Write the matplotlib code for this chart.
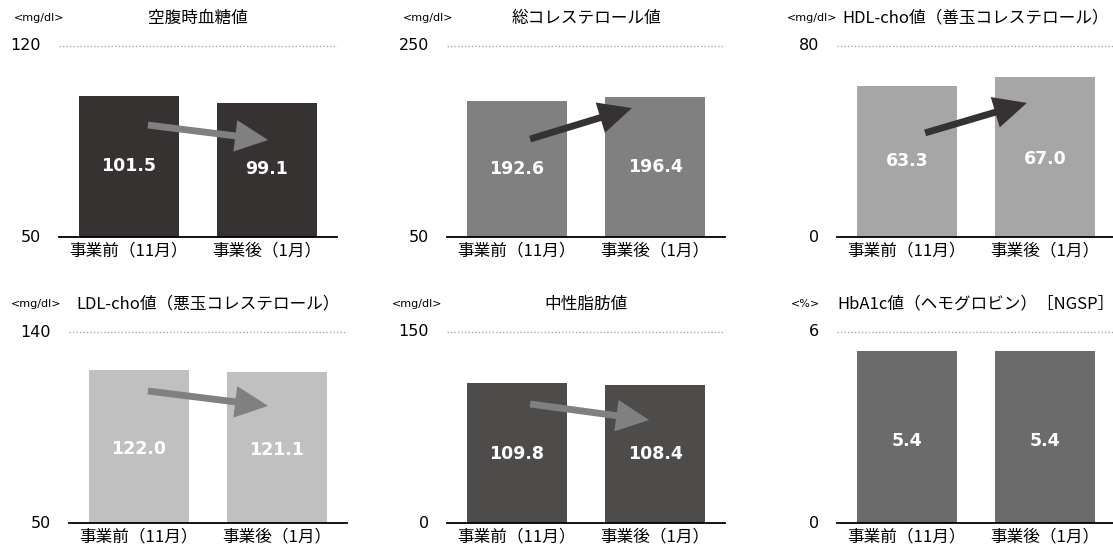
import matplotlib
matplotlib.use("Agg")
import matplotlib.pyplot as plt

plt.rcParams['font.family'] = ['Noto Sans CJK JP', 'DejaVu Sans']

# ---- data ----
categories = ["事業前（11月）", "事業後（1月）"]
titles = ["空腹時血糖値", "総コレステロール値", "HDL-cho値（善玉コレステロール）",
          "LDL-cho値（悪玉コレステロール）", "中性脂肪値", "HbA1c値（ヘモグロビン）［NGSP］"]
units = ["<mg/dl>", "<mg/dl>", "<mg/dl>", "<mg/dl>", "<mg/dl>", "<%>"]
fasting_glucose = [101.5, 99.1]
total_cholesterol = [192.6, 196.4]
hdl_cholesterol = [63.3, 67.0]
ldl_cholesterol = [122.0, 121.1]
triglycerides = [109.8, 108.4]
hba1c = [5.4, 5.4]
values = [fasting_glucose, total_cholesterol, hdl_cholesterol,
          ldl_cholesterol, triglycerides, hba1c]
y_ranges = [(50, 120), (50, 250), (0, 80), (50, 140), (0, 150), (0, 6)]

# ---- styling ----
W, H = 1113, 547
bar_colors = ["#363232", "#808080", "#a6a6a6", "#c0c0c0", "#4e4c4a", "#6b6b6b"]
arrow_colors = ["#808080", "#363232", "#363232", "#808080", "#808080", None]
# arrow tail/tip in axes fractions
arrow_pos = [((0.32, 0.586), (0.752, 0.508)),
             ((0.299, 0.513), (0.665, 0.675)),
             ((0.317, 0.545), (0.683, 0.702)),
             ((0.284, 0.691), (0.716, 0.613)),
             ((0.299, 0.623), (0.727, 0.539)),
             None]
label_y = [(0.37, 0.355), (0.355, 0.365), (0.40, 0.41),
           (0.39, 0.38), (0.36, 0.36), (0.43, 0.43)]
# axes left edges (px) and baseline (px from top)
lefts = [59, 447, 837, 69, 447, 837]
baselines = [237, 237, 237, 523, 523, 523]
unit_dx = [5, 6, 0, -8, -5, -17]
ax_w, ax_h = 278, 191

bar_w = 0.725
xlim = (-0.507, 1.507)

fig = plt.figure(figsize=(W / 100, H / 100), dpi=100)

for i in range(6):
    left = lefts[i] / W
    bottom = 1 - baselines[i] / H
    ax = fig.add_axes([left, bottom, ax_w / W, ax_h / H])
    lo, hi = y_ranges[i]
    ax.bar([0, 1], values[i], width=bar_w, bottom=0, color=bar_colors[i], zorder=2)
    ax.set_xlim(*xlim)
    ax.set_ylim(lo, hi)
    ax.axhline(hi, color="#a8a8a8", linestyle=(0, (1, 1.5)), linewidth=1, zorder=1,
               clip_on=False)
    for s in ["top", "left", "right"]:
        ax.spines[s].set_visible(False)
    ax.spines["bottom"].set_color("black")
    ax.spines["bottom"].set_linewidth(1.3)
    ax.spines["bottom"].set_zorder(3)
    ax.set_xticks([0, 1])
    ax.set_xticklabels(categories, fontsize=12)
    ax.tick_params(axis="x", length=0, pad=4)
    ax.set_yticks([lo, hi])
    ax.set_yticklabels([str(lo), str(hi)], fontsize=11.5, family="DejaVu Sans")
    ax.tick_params(axis="y", length=0, pad=13)
    for t in ax.get_yticklabels():
        t.set_verticalalignment("center")

    for j, v in enumerate(values[i]):
        ax.text(j, label_y[i][j], f"{v:.1f}", transform=ax.get_xaxis_transform(),
                ha="center", va="center", color="white", fontsize=12.5,
                fontweight="bold", family="DejaVu Sans", zorder=5)

    if arrow_pos[i] is not None:
        tail, tip = arrow_pos[i]
        ax.annotate("", xy=tip, xytext=tail, xycoords="axes fraction",
                    textcoords="axes fraction",
                    arrowprops=dict(arrowstyle="simple,tail_width=0.26,head_width=1.2,head_length=1.25",
                                    mutation_scale=19, color=arrow_colors[i],
                                    shrinkA=0, shrinkB=0, linewidth=0),
                    zorder=4)

    # title and unit above the plot
    title_y = 1 + 28 / ax_h
    ax.text(0.5, title_y, titles[i], transform=ax.transAxes, ha="center",
            va="center", fontsize=12)
    ax.text(unit_dx[i] / ax_w, title_y, units[i], transform=ax.transAxes,
            ha="right", va="center", fontsize=8, family="DejaVu Sans")

fig.savefig("out.png", dpi=100)
